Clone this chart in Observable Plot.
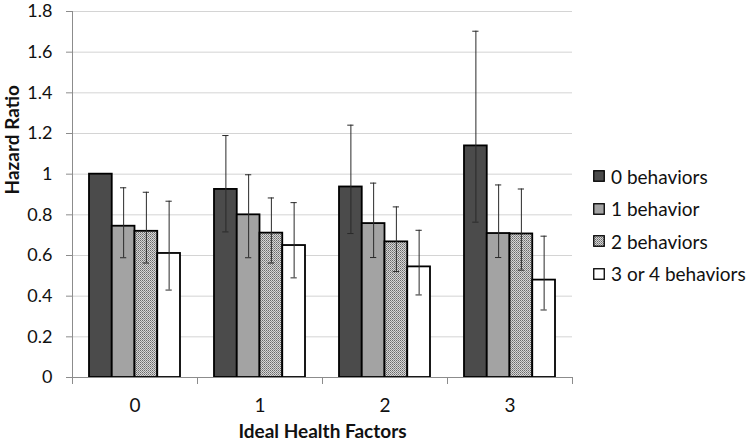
<!DOCTYPE html>
<html>
<head>
<meta charset="utf-8">
<script src="https://cdn.jsdelivr.net/npm/d3@7"></script>
<script src="https://cdn.jsdelivr.net/npm/@observablehq/plot@0.6"></script>
<style>
  html, body { margin: 0; padding: 0; background: #fff; }
  #wrap { position: relative; width: 750px; height: 443px; font-family: Lato, "Open Sans", sans-serif; }
  #chart svg { overflow: visible; }
  #chart [aria-label^="y-axis"] line, #chart [aria-label^="y-axis"] path,
  #chart [aria-label^="x-axis"] line, #chart [aria-label^="x-axis"] path { stroke: #8c8c8c; }
  #legend { position: absolute; left: 593px; top: 160px; font-size: 19px; color: #111; }
  #legend .row { display: flex; align-items: center; height: 32.5px; }
  #legend svg { margin-right: 6px; }
</style>
</head>
<body>
<svg width="0" height="0" style="position:absolute">
  <defs>
    <pattern id="checker" width="2" height="2" patternUnits="userSpaceOnUse">
      <rect width="2" height="2" fill="#d6d6d6"/>
      <rect x="0" y="0" width="1" height="1" fill="#6a6a6a"/>
      <rect x="1" y="1" width="1" height="1" fill="#8e8e8e"/>
    </pattern>
  </defs>
</svg>
<div id="wrap">
  <div id="chart"></div>
  <div id="legend"></div>
</div>
<script>
const groups = ["0", "1", "2", "3"];
const series = ["0 behaviors", "1 behavior", "2 behaviors", "3 or 4 behaviors"];
// hazard ratio per group (rows) and series (columns)
const hr = [
  [1.000, 0.744, 0.719, 0.610],
  [0.925, 0.800, 0.710, 0.649],
  [0.937, 0.757, 0.667, 0.544],
  [1.139, 0.708, 0.706, 0.479]
];
const lower = [
  [null, 0.589, 0.563, 0.430],
  [0.716, 0.589, 0.563, 0.490],
  [0.708, 0.590, 0.521, 0.406],
  [0.764, 0.590, 0.528, 0.332]
];
const upper = [
  [null, 0.933, 0.911, 0.867],
  [1.190, 0.997, 0.883, 0.860],
  [1.241, 0.956, 0.839, 0.724],
  [1.703, 0.947, 0.927, 0.695]
];
const yTicks = [0, 0.2, 0.4, 0.6, 0.8, 1, 1.2, 1.4, 1.6, 1.8];
const yTickLabels = ["0", "0.2", "0.4", "0.6", "0.8", "1", "1.2", "1.4", "1.6", "1.8"];
const fills = ["#4b4b4b", "#a3a3a3", "url(#checker)", "#ffffff"];

// layout in group units (each group spans one unit on x)
const groupPadding = 0.272;
const barW = (1 - groupPadding) / series.length;
const capHalf = 0.025;

const rows = [];
groups.forEach((g, gi) => {
  series.forEach((s, si) => {
    const x1 = gi + groupPadding / 2 + si * barW;
    rows.push({group: g, gi, series: s, si, x1, x2: x1 + barW, cx: x1 + barW / 2,
               hr: hr[gi][si], lo: lower[gi][si], hi: upper[gi][si]});
  });
});
const errRows = rows.filter(d => d.lo != null);

const barMarks = series.map((s, si) =>
  Plot.rectY(rows.filter(d => d.si === si), {
    x1: "x1", x2: "x2", y1: 0, y2: "hr",
    fill: fills[si], stroke: "#000", strokeWidth: 1.8
  })
);

const chart = Plot.plot({
  width: 750,
  height: 443,
  marginLeft: 72,
  marginRight: 178,
  marginTop: 11,
  marginBottom: 66,
  style: {fontFamily: "Lato, 'Open Sans', sans-serif", fontSize: "18px", color: "#111", background: "#fff", overflow: "visible"},
  x: {domain: [0, groups.length], ticks: d3.range(groups.length + 1), tickFormat: () => "", tickSize: 7, label: null},
  y: {domain: [0, 1.8], ticks: yTicks, tickFormat: (d) => yTickLabels[yTicks.indexOf(d)] ?? String(d), tickSize: 6, tickPadding: 14, label: null},
  marks: [
    Plot.ruleY(yTicks.slice(1), {stroke: "#d4d4d4", strokeWidth: 1}),
    Plot.ruleX([0], {stroke: "#8c8c8c"}),
    ...barMarks,
    Plot.ruleY([0], {stroke: "#8c8c8c"}),
    Plot.ruleX(errRows, {x: "cx", y1: "lo", y2: "hi", stroke: "#2a2a2a", strokeWidth: 1}),
    Plot.ruleY(errRows, {y: "hi", x1: d => d.cx - capHalf, x2: d => d.cx + capHalf, stroke: "#2a2a2a", strokeWidth: 1}),
    Plot.ruleY(errRows, {y: "lo", x1: d => d.cx - capHalf, x2: d => d.cx + capHalf, stroke: "#2a2a2a", strokeWidth: 1}),
    Plot.text(groups, {x: (d, i) => i + 0.5, y: 0, dy: 28, fontSize: 19, fill: "#111"}),
    Plot.text(["Ideal Health Factors"], {frameAnchor: "bottom", dy: 60, fontSize: 19, fontWeight: "bold", fill: "#111"}),
    Plot.text(["Hazard Ratio"], {frameAnchor: "left", dx: -60, rotate: -90, fontSize: 19, fontWeight: "bold", fill: "#111"})
  ]
});
document.getElementById("chart").appendChild(chart);

const legend = document.getElementById("legend");
series.forEach((s, si) => {
  const row = document.createElement("div");
  row.className = "row";
  row.innerHTML = `<svg width="12" height="12"><rect x="0.75" y="0.75" width="10.5" height="10.5" fill="${fills[si]}" stroke="#000" stroke-width="1.3"/></svg><span>${s}</span>`;
  legend.appendChild(row);
});
</script>
</body>
</html>
